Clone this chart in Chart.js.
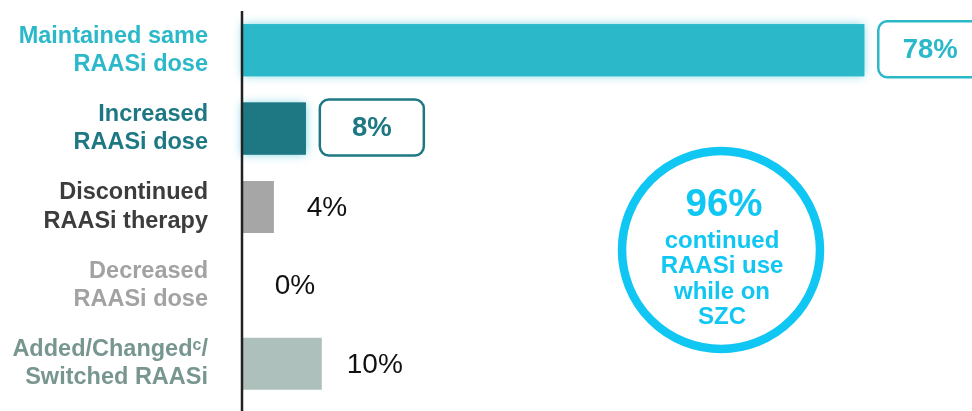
<!DOCTYPE html>
<html>
<head>
<meta charset="utf-8">
<script src="https://cdn.jsdelivr.net/npm/chart.js@4"></script>
<style>
  html, body { margin: 0; padding: 0; background: #fff; }
  #wrap { width: 972px; height: 411px; position: relative; }
</style>
</head>
<body>
<div id="wrap"><canvas id="raasiChart"></canvas></div>
<script>
const categories = [
    ['Maintained same', 'RAASi dose'],
    ['Increased', 'RAASi dose'],
    ['Discontinued', 'RAASi therapy'],
    ['Decreased', 'RAASi dose'],
    ['Added/Changed\u1D9C/', 'Switched RAASi']
];
const percentValues = [78, 8, 4, 0, 10];
const barColors = ['#2BB8C9', '#1E7884', '#A6A6A6', '#A6A6A6', '#AEC0BB'];
const labelColors = ['#2BB8C9', '#1E7884', '#3C3C3C', '#A2A2A2', '#789690'];
const boxedLabels = [true, true, false, false, false];
const glowBars = [true, true, false, false, false];

const calloutLines = ['continued', 'RAASi use', 'while on', 'SZC'];
const calloutValue = '96%';

const FONT = 'Arial, "Liberation Sans", sans-serif';

function roundRect(ctx, x, y, w, h, r) {
    ctx.beginPath();
    ctx.moveTo(x + r, y);
    ctx.lineTo(x + w - r, y);
    ctx.arcTo(x + w, y, x + w, y + r, r);
    ctx.lineTo(x + w, y + h - r);
    ctx.arcTo(x + w, y + h, x + w - r, y + h, r);
    ctx.lineTo(x + r, y + h);
    ctx.arcTo(x, y + h, x, y + h - r, r);
    ctx.lineTo(x, y + r);
    ctx.arcTo(x, y, x + r, y, r);
    ctx.closePath();
}

// soft halo behind the highlighted bars
const glowPlugin = {
    id: 'barGlow',
    beforeDatasetsDraw(chart) {
        const ctx = chart.ctx;
        chart.getDatasetMeta(0).data.forEach((bar, i) => {
            if (!glowBars[i]) return;
            const left = Math.min(bar.base, bar.x);
            const w = Math.abs(bar.x - bar.base);
            ctx.save();
            ctx.shadowColor = 'rgba(80, 200, 215, 0.75)';
            ctx.shadowBlur = 9;
            ctx.fillStyle = barColors[i];
            ctx.fillRect(left, bar.y - bar.height / 2, w, bar.height);
            ctx.restore();
        });
    }
};

// value labels, vertical axis line and the summary circle
const overlayPlugin = {
    id: 'overlay',
    afterDatasetsDraw(chart) {
        const ctx = chart.ctx;
        const area = chart.chartArea;

        chart.getDatasetMeta(0).data.forEach((bar, i) => {
            const text = percentValues[i] + '%';
            ctx.save();
            ctx.textAlign = 'center';
            ctx.textBaseline = 'middle';
            if (boxedLabels[i]) {
                const bx = bar.x + 14, bw = 104, bh = 56, by = bar.y - bh / 2 - 1;
                ctx.lineWidth = 2.5;
                ctx.strokeStyle = barColors[i];
                roundRect(ctx, bx, by, bw, bh, 9);
                ctx.stroke();
                ctx.fillStyle = barColors[i];
                ctx.font = 'bold 27.5px ' + FONT;
                ctx.fillText(text, bx + bw / 2, by + bh / 2 + 1);
            } else {
                ctx.fillStyle = '#111';
                ctx.font = '28px ' + FONT;
                ctx.fillText(text, bar.x + 53, bar.y + 1);
            }
            ctx.restore();
        });

        // axis line runs to the bottom of the canvas
        ctx.save();
        ctx.strokeStyle = '#222';
        ctx.lineWidth = 2.5;
        ctx.beginPath();
        ctx.moveTo(area.left, area.top);
        ctx.lineTo(area.left, chart.height);
        ctx.stroke();
        ctx.restore();

        // summary circle
        const cx = area.left + 479, cy = 250, r = 99;
        ctx.save();
        ctx.strokeStyle = '#10C6F2';
        ctx.lineWidth = 8.5;
        ctx.beginPath();
        ctx.arc(cx, cy, r, 0, Math.PI * 2);
        ctx.stroke();
        ctx.fillStyle = '#10C6F2';
        ctx.textAlign = 'center';
        ctx.textBaseline = 'middle';
        ctx.font = 'bold 38.5px ' + FONT;
        ctx.fillText(calloutValue, cx + 3, 205);
        ctx.font = 'bold 24px ' + FONT;
        calloutLines.forEach((line, k) => {
            ctx.fillText(line, cx + 1, 241 + k * 25.5);
        });
        ctx.restore();
    }
};

new Chart(document.getElementById('raasiChart'), {
    type: 'bar',
    data: {
        labels: categories,
        datasets: [{
            data: percentValues,
            backgroundColor: barColors,
            borderWidth: 0,
            barPercentage: 0.663,
            categoryPercentage: 1
        }]
    },
    options: {
        indexAxis: 'y',
        responsive: true,
        maintainAspectRatio: false,
        animation: false,
        layout: { padding: { top: 11, bottom: 8, left: 0, right: 12 } },
        plugins: {
            legend: { display: false },
            tooltip: { enabled: false }
        },
        scales: {
            x: {
                display: false,
                min: 0,
                max: 90
            },
            y: {
                grid: { display: false, drawTicks: false },
                border: { display: false },
                afterFit(scale) {
                    scale.width = 242;
                    scale.paddingTop = 0;
                    scale.paddingBottom = 0;
                },
                ticks: {
                    padding: 34,
                    color: ctx => labelColors[ctx.index],
                    font: { family: FONT, size: 23.5, weight: 'bold', lineHeight: 1.2 }
                }
            }
        }
    },
    plugins: [glowPlugin, overlayPlugin]
});
</script>
</body>
</html>
